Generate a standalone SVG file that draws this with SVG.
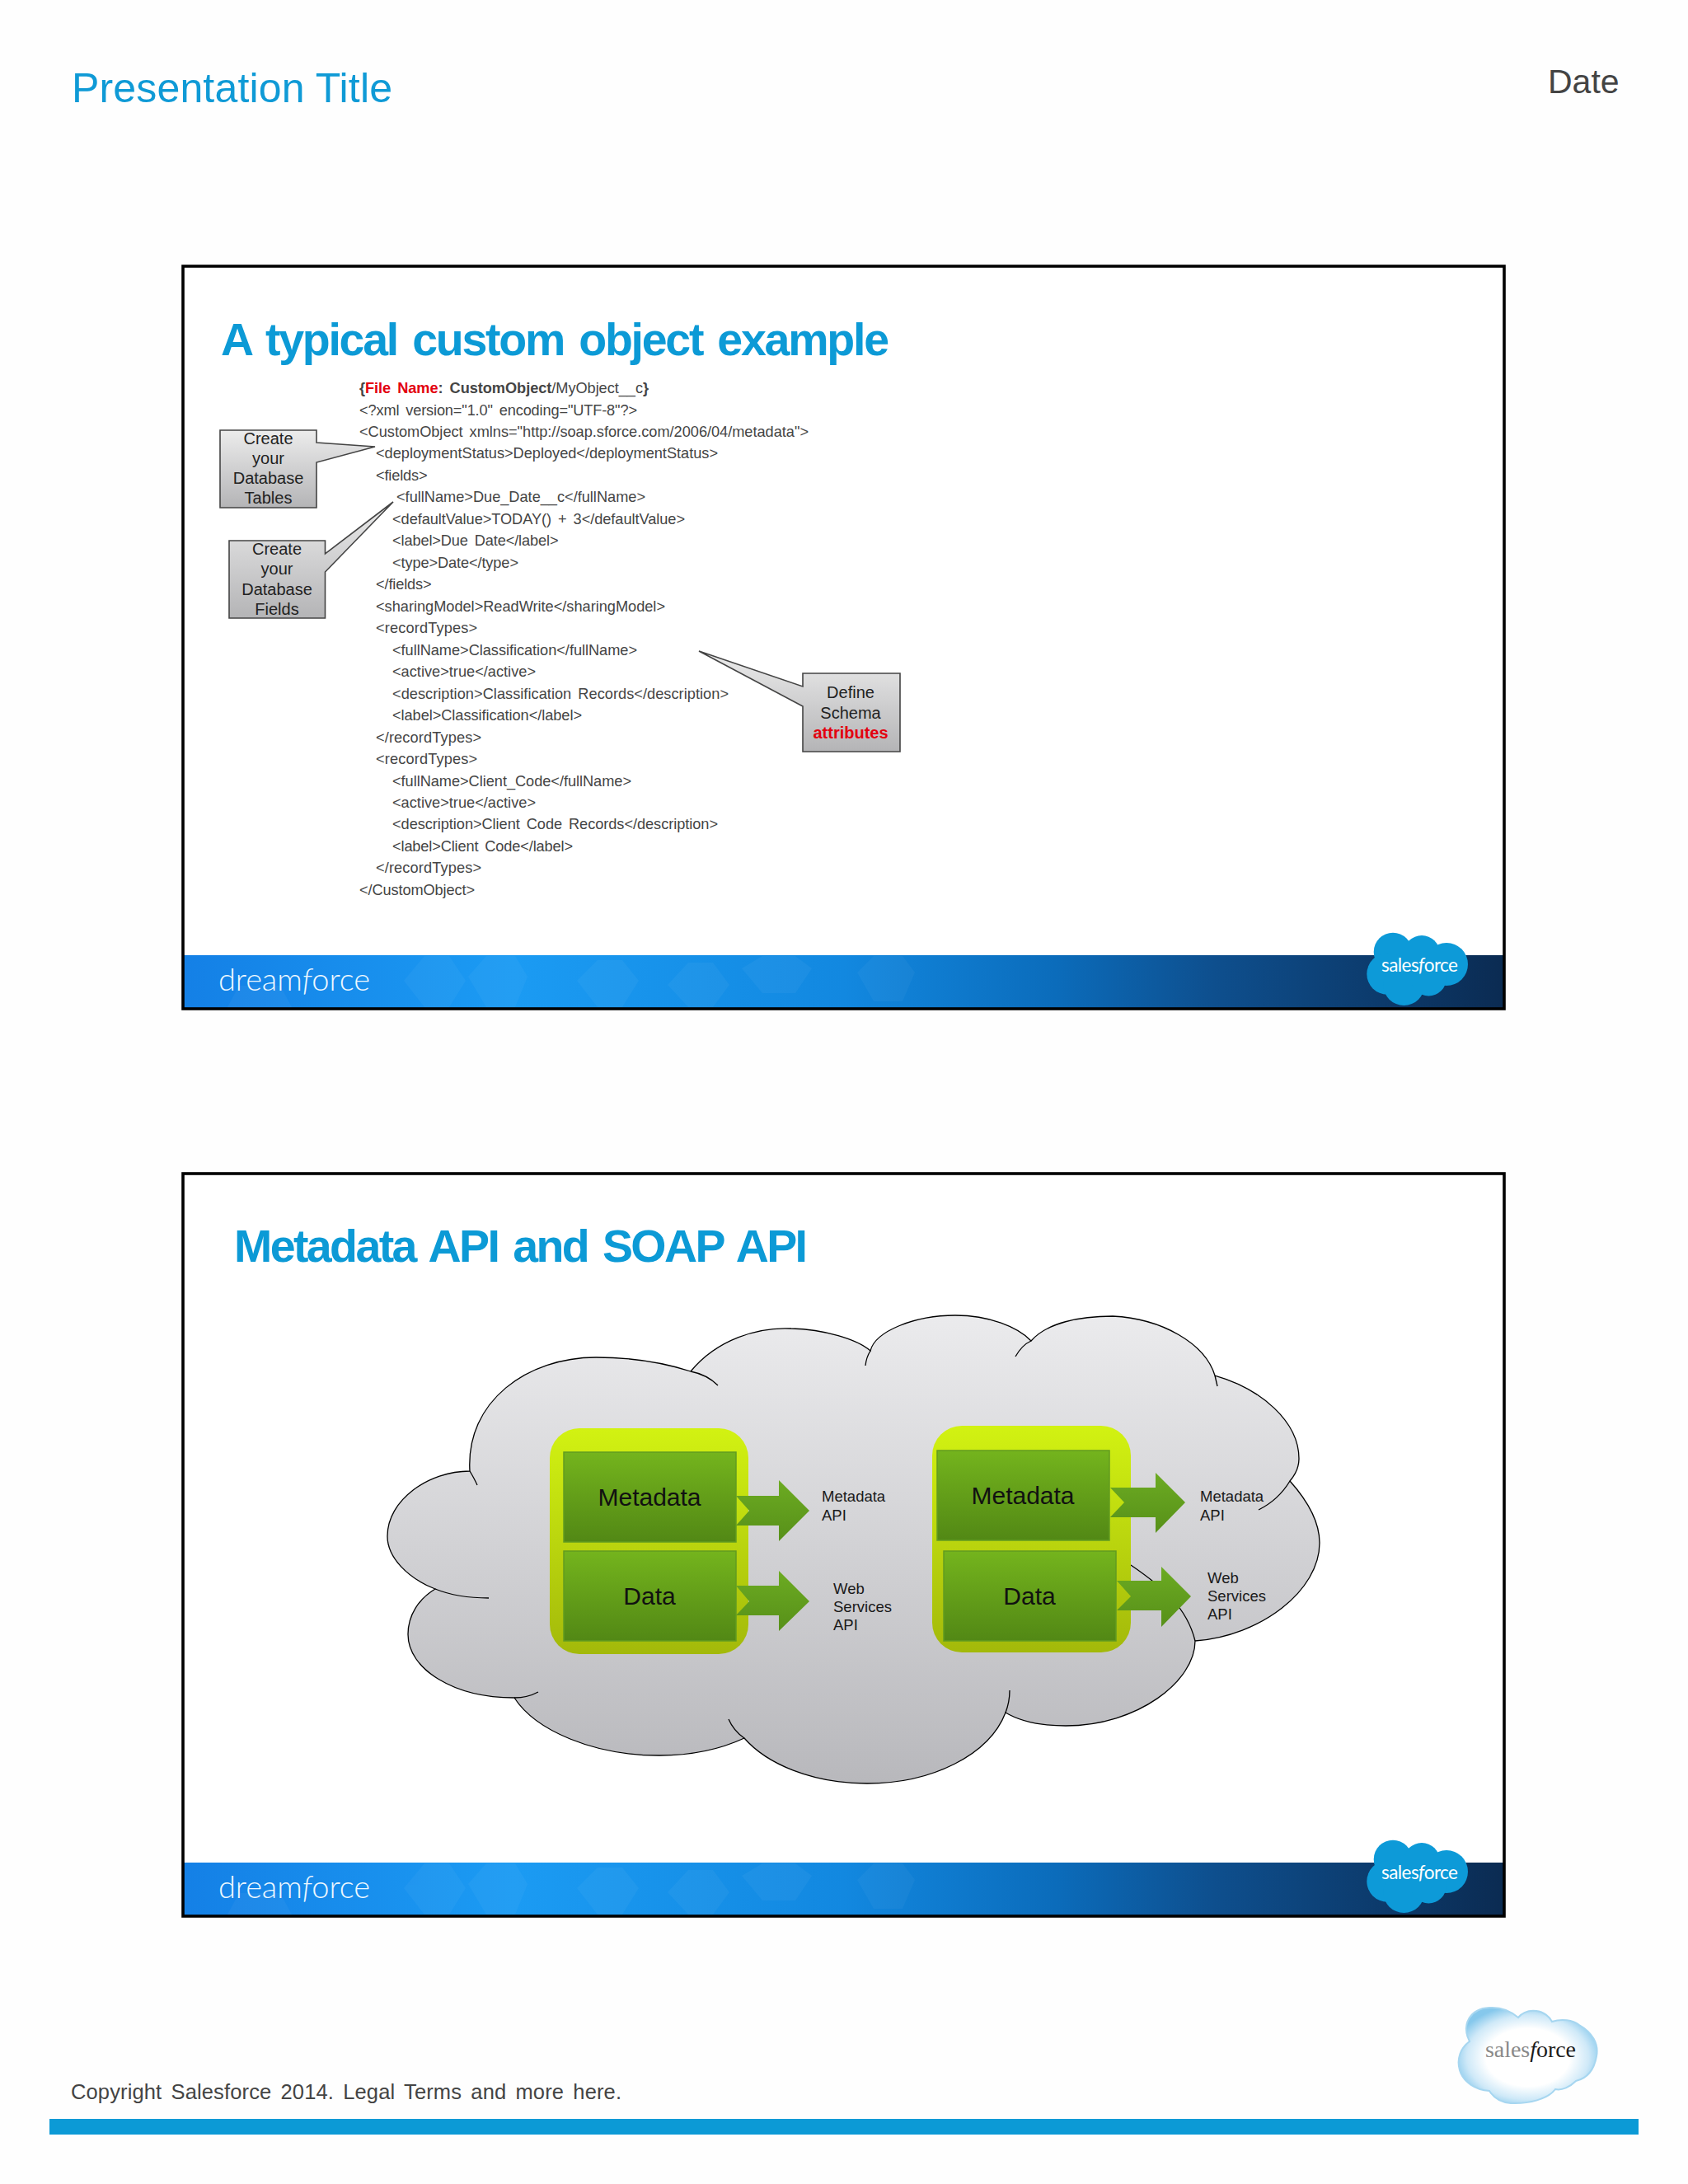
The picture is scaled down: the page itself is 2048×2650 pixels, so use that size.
<svg xmlns="http://www.w3.org/2000/svg" xmlns:xlink="http://www.w3.org/1999/xlink" width="2048" height="2650" viewBox="0 0 2048 2650">
<defs>
<linearGradient id="band" gradientUnits="userSpaceOnUse" x1="222" y1="0" x2="1825" y2="0"><stop offset="0" stop-color="#1480e6"/><stop offset=".25" stop-color="#1b9bf3"/><stop offset=".5" stop-color="#1288e0"/><stop offset=".66" stop-color="#0b6cbb"/><stop offset=".78" stop-color="#0e4f8e"/><stop offset="1" stop-color="#0b2b52"/></linearGradient>
<linearGradient id="grayBox" x1="0" y1="0" x2="0" y2="1"><stop offset="0" stop-color="#ececec"/><stop offset="1" stop-color="#b4b4b6"/></linearGradient>
<linearGradient id="cloudFill" x1="0" y1="0" x2="0" y2="1"><stop offset="0" stop-color="#ebebed"/><stop offset="1" stop-color="#b8b8bc"/></linearGradient>
<linearGradient id="lime" x1="0" y1="0" x2="0" y2="1"><stop offset="0" stop-color="#d2f212"/><stop offset="1" stop-color="#a3b90a"/></linearGradient>
<linearGradient id="green" x1="0" y1="0" x2="0" y2="1"><stop offset="0" stop-color="#74b41d"/><stop offset="1" stop-color="#528815"/></linearGradient>
<linearGradient id="arrowFill" x1="0" y1="0" x2="0" y2="1"><stop offset="0" stop-color="#6cab22"/><stop offset="1" stop-color="#579019"/></linearGradient>
<radialGradient id="logoFill" cx=".5" cy=".52" r=".55"><stop offset="0" stop-color="#ffffff"/><stop offset=".55" stop-color="#ffffff"/><stop offset=".8" stop-color="#cfe9f8"/><stop offset="1" stop-color="#86c8ec"/></radialGradient>
<g id="bandShapes">
<rect x="222" y="1159" width="1603" height="65" fill="url(#band)"/>
<g fill="#ffffff" opacity=".035">
<polygon points="290,1196 340,1196 355,1224 275,1224"/>
<polygon points="490,1190 515,1160 545,1160 565,1190 545,1222 515,1222"/>
<polygon points="568,1185 590,1160 625,1160 640,1185 625,1222 590,1222"/>
<polygon points="700,1190 725,1165 755,1165 775,1190 755,1222 725,1222"/>
<polygon points="810,1195 835,1168 865,1168 885,1195 865,1222 835,1222"/>
<polygon points="900,1175 925,1160 965,1160 985,1175 965,1205 925,1205"/>
<polygon points="1040,1180 1060,1160 1095,1160 1110,1180 1095,1215 1060,1215"/>
</g>
</g>
<g id="sfCloud" fill="#0d9ad8">
<circle cx="1690" cy="1155" r="23.3"/><circle cx="1725" cy="1156.7" r="21.7"/><circle cx="1755" cy="1170" r="26"/><circle cx="1683.3" cy="1181.7" r="25"/><circle cx="1703.3" cy="1195" r="25"/><circle cx="1733.3" cy="1186.7" r="21.7"/><rect x="1690" y="1150" width="50" height="45"/>
</g>
</defs>
<style>
text{font-family:"Liberation Sans",Arial,sans-serif}
.code{font-size:18.2px;fill:#454545;word-spacing:3px}
.title{font-size:55.5px;font-weight:700;fill:#0c9ad6;word-spacing:5px}
.call{font-size:20px;fill:#222;text-anchor:middle}
.box{fill:url(#grayBox);stroke:#444;stroke-width:1.6}
.frame{fill:none;stroke:#000;stroke-width:3.6}
.df{font-family:Lato,"Open Sans",sans-serif;font-weight:300;font-size:38px;fill:#eef8ff}
.sf{font-family:Lato,"Open Sans",sans-serif;font-size:22.500px;fill:#fff}
.mod{font-size:30px;fill:#111;text-anchor:middle}
.api{font-size:18.5px;fill:#1a1a1a}
.lime{fill:url(#lime)}
.grn{fill:url(#green);stroke:#629c20;stroke-width:1.5}
.arrow{fill:url(#arrowFill)}
.edge{fill:none;stroke:#000;stroke-width:1.3}
</style>
<rect width="2048" height="2650" fill="#fefefe"/>

<g id="page-header">
<text x="87" y="124" font-size="50" fill="#0f9ad6" textLength="389">Presentation Title</text>
<text x="1878" y="113" font-size="41" fill="#444">Date</text>
</g>

<g id="slide-1">
<rect x="222" y="323" width="1603" height="901" fill="#fff"/>
<use xlink:href="#bandShapes" href="#bandShapes"/>
<rect class="frame" x="222" y="323" width="1603" height="901"/>
<text class="title" x="268" y="431" textLength="811">A typical custom object example</text>
<text class="df" x="265" y="1202" textLength="184">dream<tspan font-style="italic">f</tspan>orce</text>
<use xlink:href="#sfCloud" href="#sfCloud"/>
<text class="sf" x="1676" y="1179" textLength="93">sales<tspan font-style="italic">f</tspan>orce</text>
</g>

<g id="code-listing">
<text class="code" x="436" y="477" textLength="351"><tspan font-weight="700">{</tspan><tspan font-weight="700" fill="#e3000f">File Name</tspan><tspan font-weight="700">: CustomObject</tspan>/MyObject__c<tspan font-weight="700">}</tspan></text>
<text class="code" x="436" y="503.5" textLength="337">&lt;?xml version="1.0" encoding="UTF-8"?&gt;</text>
<text class="code" x="436" y="529.9" textLength="545">&lt;CustomObject xmlns="http://soap.sforce.com/2006/04/metadata"&gt;</text>
<text class="code" x="456" y="556.4" textLength="415">&lt;deploymentStatus&gt;Deployed&lt;/deploymentStatus&gt;</text>
<text class="code" x="456" y="582.9" textLength="62.5">&lt;fields&gt;</text>
<text class="code" x="481" y="609.4" textLength="302">&lt;fullName&gt;Due_Date__c&lt;/fullName&gt;</text>
<text class="code" x="476" y="635.8" textLength="355">&lt;defaultValue&gt;TODAY() + 3&lt;/defaultValue&gt;</text>
<text class="code" x="476" y="662.3" textLength="201.5">&lt;label&gt;Due Date&lt;/label&gt;</text>
<text class="code" x="476" y="688.8" textLength="153">&lt;type&gt;Date&lt;/type&gt;</text>
<text class="code" x="456" y="715.2" textLength="67.6">&lt;/fields&gt;</text>
<text class="code" x="456" y="741.7" textLength="351">&lt;sharingModel&gt;ReadWrite&lt;/sharingModel&gt;</text>
<text class="code" x="456" y="768.2" textLength="123">&lt;recordTypes&gt;</text>
<text class="code" x="476" y="794.6" textLength="297">&lt;fullName&gt;Classification&lt;/fullName&gt;</text>
<text class="code" x="476" y="821.1" textLength="174">&lt;active&gt;true&lt;/active&gt;</text>
<text class="code" x="476" y="847.6" textLength="408">&lt;description&gt;Classification Records&lt;/description&gt;</text>
<text class="code" x="476" y="874" textLength="230">&lt;label&gt;Classification&lt;/label&gt;</text>
<text class="code" x="456" y="900.5" textLength="128">&lt;/recordTypes&gt;</text>
<text class="code" x="456" y="927" textLength="123">&lt;recordTypes&gt;</text>
<text class="code" x="476" y="953.5" textLength="290">&lt;fullName&gt;Client_Code&lt;/fullName&gt;</text>
<text class="code" x="476" y="979.9" textLength="174">&lt;active&gt;true&lt;/active&gt;</text>
<text class="code" x="476" y="1006.4" textLength="395">&lt;description&gt;Client Code Records&lt;/description&gt;</text>
<text class="code" x="476" y="1032.9" textLength="219">&lt;label&gt;Client Code&lt;/label&gt;</text>
<text class="code" x="456" y="1059.3" textLength="128">&lt;/recordTypes&gt;</text>
<text class="code" x="436" y="1085.8" textLength="140">&lt;/CustomObject&gt;</text>
</g>

<g id="callout-tables">
<path class="box" d="M267,522H384V537L455,542L384,561V616H267Z"/>
<text class="call" x="325.500" y="539">Create</text><text class="call" x="325.500" y="563">your</text><text class="call" x="325.500" y="587">Database</text><text class="call" x="325.500" y="611">Tables</text>
</g>
<g id="callout-fields">
<path class="box" d="M278,656H394.500V672L477,609L394.500,694V750H278Z"/>
<text class="call" x="336" y="673">Create</text><text class="call" x="336" y="697">your</text><text class="call" x="336" y="722">Database</text><text class="call" x="336" y="746">Fields</text>
</g>
<g id="callout-schema">
<path class="box" d="M974,817H1092V912H974V857L848,790L974,833Z"/>
<text class="call" x="1032" y="847">Define</text><text class="call" x="1032" y="872">Schema</text><text class="call" x="1032" y="896" font-weight="700" style="fill:#e3000f">attributes</text>
</g>

<g id="slide-2">
<rect x="222" y="1424" width="1603" height="901" fill="#fff"/>
<use xlink:href="#bandShapes" href="#bandShapes" y="1101"/>
<rect class="frame" x="222" y="1424" width="1603" height="901"/>
<text class="title" x="284" y="1531" textLength="696">Metadata API and SOAP API</text>
<text class="df" x="265" y="2303" textLength="184">dream<tspan font-style="italic">f</tspan>orce</text>
<use xlink:href="#sfCloud" href="#sfCloud" y="1101"/>
<text class="sf" x="1676" y="2280" textLength="93">sales<tspan font-style="italic">f</tspan>orce</text>
</g>

<g id="big-cloud">
<path fill="url(#cloudFill)" stroke="#000" stroke-width="1.3" d="M838,1664C870,1625 920,1610 960,1612C1000,1613 1040,1625 1056,1639C1062,1615 1110,1596 1159,1596C1200,1596 1235,1610 1251,1627C1270,1605 1310,1597 1350,1597C1410,1600 1462,1630 1474,1669C1530,1685 1576,1725 1576,1770C1576,1780 1571,1790 1565,1797C1590,1825 1601,1850 1601,1872C1601,1930 1530,1985 1450,1991C1450,2040 1380,2094 1293,2094C1265,2094 1240,2090 1220,2078C1200,2130 1130,2164 1052,2164C985,2164 930,2140 903,2109C875,2122 840,2130 800,2130C720,2130 650,2100 624,2060C550,2060 495,2025 495,1983C495,1960 508,1940 528,1928C495,1915 470,1890 470,1864C470,1820 520,1785 570,1785C565,1700 640,1647 723,1647C770,1647 810,1655 838,1664Z"/>
<path class="edge" d="M1056,1639Q1051,1647 1050,1657M1251,1627Q1240,1632 1232,1646M1474,1669L1477,1682M1565,1797C1556,1812 1543,1824 1527,1832M1372,1899C1410,1925 1440,1950 1450,1991M1220,2078Q1225,2065 1225,2051M903,2109Q890,2100 884,2086M624,2060Q640,2060 653,2053M528,1928Q555,1939 593,1939M570,1785Q576,1795 579,1802M838,1664Q858,1668 871,1681"/>
</g>

<g id="module-left">
<rect class="lime" x="667" y="1733" width="241" height="274" rx="36"/>
<g id="left-metadata"><rect class="grn" x="684" y="1762" width="209" height="109"/><text class="mod" x="788" y="1826.500">Metadata</text></g>
<g id="left-data"><rect class="grn" x="684" y="1882" width="209" height="109"/><text class="mod" x="788" y="1946.500">Data</text></g>
</g>
<g id="module-right">
<rect class="lime" x="1131" y="1730" width="241" height="275" rx="36"/>
<g id="right-metadata"><rect class="grn" x="1137" y="1760" width="209" height="109"/><text class="mod" x="1241" y="1824.500">Metadata</text></g>
<g id="right-data"><rect class="grn" x="1145" y="1882" width="209" height="109"/><text class="mod" x="1249" y="1946.500">Data</text></g>
</g>

<g id="connectors">
<polygon class="arrow" points="893,1815 945,1815 945,1796 982,1833 945,1870 945,1851 893,1851 909,1833"/>
<polygon class="arrow" points="893,1924 945,1924 945,1906 982,1943 945,1979 945,1960 893,1960 909,1943"/>
<polygon class="arrow" points="1347,1805 1402,1805 1402,1787 1438,1823 1402,1860 1402,1841 1347,1841 1364,1823"/>
<polygon class="arrow" points="1355,1918 1409,1918 1409,1901 1445,1937 1409,1974 1409,1954 1355,1954 1372,1937"/>
</g>

<g id="label-left-metadata-api"><text class="api" x="997" y="1822">Metadata</text><text class="api" x="997" y="1845">API</text></g>
<g id="label-left-web-api"><text class="api" x="1011" y="1934">Web</text><text class="api" x="1011" y="1956">Services</text><text class="api" x="1011" y="1978">API</text></g>
<g id="label-right-metadata-api"><text class="api" x="1456" y="1822">Metadata</text><text class="api" x="1456" y="1845">API</text></g>
<g id="label-right-web-api"><text class="api" x="1465" y="1921">Web</text><text class="api" x="1465" y="1943">Services</text><text class="api" x="1465" y="1965">API</text></g>

<g id="page-footer">
<text x="86" y="2547" font-size="25.500" fill="#444" style="word-spacing:4px" textLength="668">Copyright Salesforce 2014. Legal Terms and more here.</text>
<path fill="url(#logoFill)" stroke="#a6d6f0" stroke-width="2" d="M1783,2477C1772,2455 1785,2437 1807,2436C1822,2435 1834,2441 1842,2448C1848,2441 1856,2439 1864,2440C1873,2441 1880,2447 1883,2453C1895,2449 1908,2451 1916,2457C1932,2466 1940,2480 1937,2495C1934,2512 1925,2522 1912,2525C1905,2532 1895,2537 1887,2535C1878,2547 1855,2553 1833,2552C1820,2551 1812,2545 1807,2537C1790,2536 1775,2526 1771,2512C1767,2498 1772,2485 1783,2477Z"/>
<text x="1802" y="2496" font-size="28" style="font-family:'Liberation Serif',serif" fill="#8a8a8a" textLength="110">sales<tspan font-style="italic" fill="#1c1c1c">f</tspan><tspan fill="#1c1c1c">orce</tspan></text>
<rect x="60" y="2571" width="1928" height="19" fill="#0c9ad6"/>
</g>
</svg>
